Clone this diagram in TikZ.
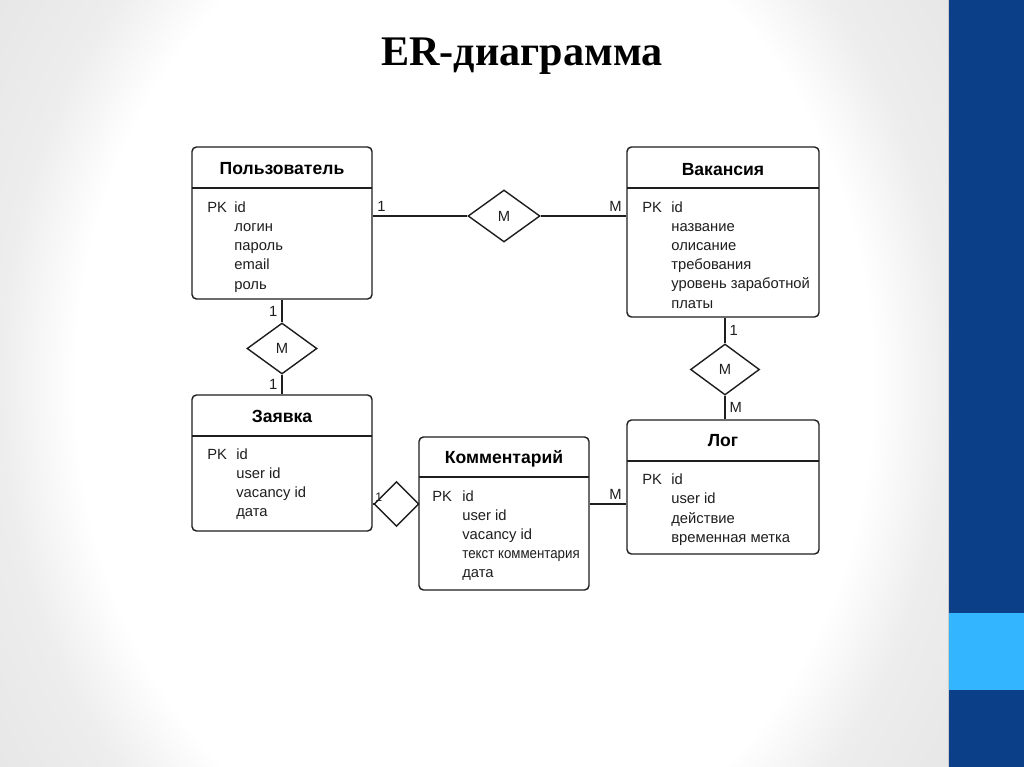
\documentclass[tikz,border=0pt]{standalone}
\usepackage{fontspec}
\setmainfont{Liberation Sans}
\newfontfamily\titlefont{Liberation Serif}
\usetikzlibrary{shapes.geometric}

\definecolor{erline}{RGB}{30,30,30}
\definecolor{barblue}{RGB}{11,63,135}
\definecolor{barlight}{RGB}{51,181,255}
\pgfdeclareradialshading{vign}{\pgfpoint{0bp}{0bp}}{color(0bp)=(white); color(21bp)=(white); color(25bp)=(black!7); color(31bp)=(black!10); color(50bp)=(black!10)}

\begin{document}
\begin{tikzpicture}[x=0.02cm, y=-0.02cm,
  entity/.style={draw=erline, line width=0.8pt, rounded corners=2.5pt, fill=white},
  etitle/.style={font=\fontsize{10}{12}\selectfont\bfseries, text=black},
  attr/.style={anchor=base west, inner sep=0, font=\fontsize{8.4}{10}\selectfont, text=erline},
  rel/.style={draw=erline, line width=0.8pt, diamond, inner sep=0, fill=white,
    font=\fontsize{8.4}{10}\selectfont, text=erline},
  card/.style={font=\fontsize{8.4}{10}\selectfont, text=erline, inner sep=2.2pt},
  conn/.style={draw=erline, line width=0.8pt}]

  % slide background
  \useasboundingbox (0,0) rectangle (1024,767);
  \begin{scope}
    \clip (0,0) rectangle (948,767);
    \shade [shading=vign] (0,-200) rectangle (948,967);
  \end{scope}
  \fill [barblue] (949,0) rectangle (1024,767);
  \fill [barlight] (949,613) rectangle (1024,690);
  \draw [black!20] (948,0) -- (948,767);

  \node (title) [font=\titlefont\bfseries\fontsize{24}{28}\selectfont] at (522,56) {ER-диаграмма};

  % entities
  \node (user) [entity, minimum width=3.6cm, minimum height=3.04cm] at (282,223) {};
  \node (userT) [etitle] at (282,169) {Пользователь};
  \draw [conn] (192,188) -- (372,188);
  \node (userPK) [attr] at (207,212) {PK};
  \foreach \a [count=\i from 0] in {id,логин,пароль,email,роль}
    \node (user\i) [attr] at (234,212+19.3*\i) {\a};

  \node (vac) [entity, minimum width=3.84cm, minimum height=3.4cm] at (723,232) {};
  \node (vacT) [etitle] at (723,170) {Вакансия};
  \draw [conn] (627,188) -- (819,188);
  \node (vacPK) [attr] at (642,212) {PK};
  \foreach \a [count=\i from 0] in {id,название,олисание,требования,уровень заработной,платы}
    \node (vac\i) [attr] at (671,212+19.2*\i) {\a};

  \node (zay) [entity, minimum width=3.6cm, minimum height=2.72cm] at (282,463) {};
  \node (zayT) [etitle] at (282,416) {Заявка};
  \draw [conn] (192,436) -- (372,436);
  \node (zayPK) [attr] at (207,459) {PK};
  \foreach \a [count=\i from 0] in {id,user id,vacancy id,дата}
    \node (zay\i) [attr] at (236,459+19.3*\i) {\a};

  \node (kom) [entity, minimum width=3.4cm, minimum height=3.06cm] at (504,513.5) {};
  \node (komT) [etitle] at (504,459) {Комментарий};
  \draw [conn] (419,477) -- (589,477);
  \node (komPK) [attr] at (432,501) {PK};
  \foreach \a [count=\i from 0] in {id,user id,vacancy id,\scalebox{0.9}[1]{текст комментария},дата}
    \node (kom\i) [attr] at (462,501+19.1*\i) {\a};

  \node (log) [entity, minimum width=3.84cm, minimum height=2.68cm] at (723,487) {};
  \node (logT) [etitle] at (723,441) {Лог};
  \draw [conn] (627,461) -- (819,461);
  \node (logPK) [attr] at (642,484) {PK};
  \foreach \a [count=\i from 0] in {id,user id,действие,временная метка}
    \node (log\i) [attr] at (671,484+19.5*\i) {\a};

  % relations
  \node (relUV) [rel, minimum width=1.44cm, minimum height=1.04cm] at (504,216) {M};
  \node (relUZ) [rel, minimum width=1.4cm, minimum height=1.02cm] at (282,348.5) {M};
  \node (relVL) [rel, minimum width=1.38cm, minimum height=1.02cm] at (725,369.5) {M};
  \node (relZK) [rel, minimum width=0.9cm, minimum height=0.9cm] at (396.5,504) {};

  \draw [conn] (user.east |- relUV) -- node (c1) [card, pos=0, anchor=south west] {1} (relUV);
  \draw [conn] (relUV) -- (vac.west |- relUV) node (c2) [card, anchor=south east] {M};
  \draw [conn] (user) -- node (c3) [card, anchor=east] {1} (relUZ);
  \draw [conn] (relUZ) -- node (c4) [card, anchor=east] {1} (zay);
  \draw [conn] (relVL |- vac.south) -- node (c5) [card, anchor=west] {1} (relVL);
  \draw [conn] (relVL) -- node (c6) [card, anchor=west] {M} (relVL |- log.north);
  \draw [conn] (zay.east |- relZK) -- (relZK);
  \node (c7) [card, inner sep=1pt, font=\fontsize{7}{8}\selectfont, anchor=south west] at (relZK.west) {1};
  \draw [conn] (kom.east |- relZK) -- (log.west |- relZK) node (c8) [card, anchor=south east] {M};
\end{tikzpicture}
\end{document}
